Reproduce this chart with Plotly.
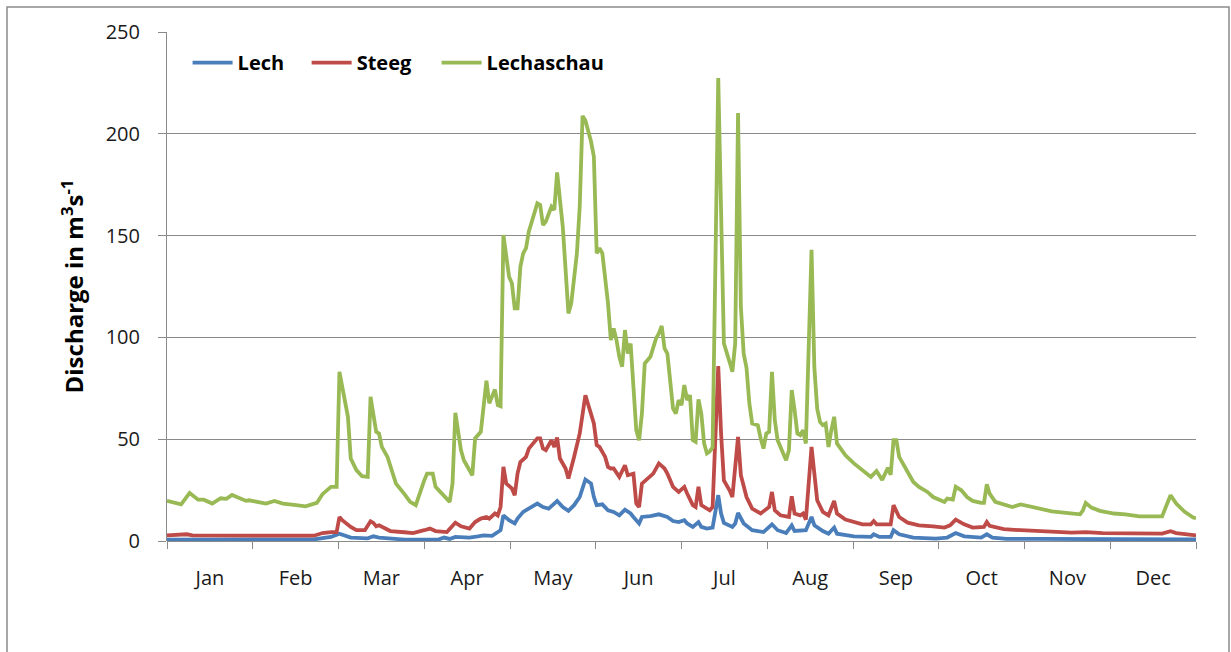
import plotly.graph_objects as go

# ---------------- data (day of year, discharge m3/s) ----------------
months = ["Jan", "Feb", "Mar", "Apr", "May", "Jun", "Jul", "Aug", "Sep", "Oct", "Nov", "Dec"]
y_ticks = [0, 50, 100, 150, 200, 250]

lech_day = [0, 30, 52, 58, 61, 65, 71, 73, 75, 84, 96, 98, 100, 102, 107, 110, 112, 115, 116, 118,
            119, 121, 123, 124, 126, 127, 130, 131, 133, 135, 137, 138, 140, 142, 144, 146, 148, 150,
            151, 152, 154, 156, 158, 160, 162, 164, 165, 167, 168, 171, 174, 177, 179, 181, 183, 184,
            186, 188, 189, 191, 193, 195, 196, 197, 200, 201, 202, 204, 207, 211, 214, 216, 219, 221,
            222, 226, 228, 229, 232, 234, 236, 237, 243, 249, 250, 252, 256, 257, 259, 264, 272, 276,
            279, 282, 288, 290, 292, 297, 308, 325, 364]
lech_q = [0.7, 0.7, 0.8, 2.0, 3.6, 1.7, 1.3, 2.3, 1.7, 0.7, 0.7, 1.7, 1.0, 2.0, 1.7, 2.3, 2.8, 2.5, 3.3, 5.3,
          12.6, 10.2, 8.6, 11.0, 14.3, 15.1, 17.1, 18.4, 16.7, 15.9, 18.4, 19.7, 16.7, 14.8, 17.6, 21.6, 30.2, 28.2,
          21.6, 17.6, 18.0, 15.1, 14.3, 12.6, 15.4, 13.5, 11.8, 8.6, 11.8, 12.2, 13.1, 11.8, 9.8, 9.3, 10.2, 8.6,
          6.9, 9.3, 6.9, 6.1, 6.6, 22.5, 13.5, 8.9, 6.9, 8.6, 13.8, 8.6, 5.3, 4.4, 8.2, 5.3, 3.9, 7.7,
          4.9, 5.3, 11.8, 7.7, 4.9, 3.6, 6.6, 3.6, 2.3, 2.0, 3.3, 2.0, 2.0, 5.3, 3.3, 1.7, 1.2, 1.7,
          3.9, 2.3, 1.7, 3.3, 1.7, 1.0, 1.0, 0.8, 0.8]

steeg_day = [0, 5, 7, 9, 20, 40, 52, 55, 58, 60, 61, 62, 65, 67, 70, 72, 73, 74, 75, 79, 84, 87, 91, 93, 95,
             99, 102, 104, 107, 109, 111, 113, 114, 116, 117, 118, 119, 120, 122, 123, 124, 125, 127, 128,
             131, 132, 133, 134, 136, 137, 138, 139, 141, 142, 144, 146, 148, 150, 151, 152, 153, 155, 156,
             157, 158, 160, 161, 162, 163, 165, 166, 167, 168, 170, 172, 174, 176, 177, 179, 181, 183, 184,
             186, 187, 188, 189, 191, 192, 193, 195, 196, 197, 199, 200, 202, 203, 205, 207, 210, 213, 214,
             215, 217, 220, 221, 222, 224, 225, 226, 228, 229, 230, 232, 234, 236, 237, 240, 242, 245, 246,
             249, 250, 251, 256, 257, 259, 262, 266, 271, 275, 277, 279, 282, 285, 289, 290, 291, 296, 302,
             308, 313, 320, 325, 331, 352, 355, 357, 363, 364]
steeg_q = [2.8, 3.1, 3.3, 2.8, 2.6, 2.6, 2.6, 3.9, 4.4, 4.4, 11.8, 10.2, 6.9, 5.3, 5.3, 9.7, 8.9, 7.2, 7.7, 4.9, 4.3, 3.9, 5.3, 6.1, 4.9,
           4.4, 9.0, 7.2, 6.1, 9.3, 11.0, 11.8, 11.0, 13.5, 12.5, 16.7, 36.4, 28.2, 25.8, 22.5, 33.1, 38.8, 41.3, 45.4,
           50.4, 50.4, 45.4, 44.6, 49.5, 46.2, 50.8, 40.5, 35.6, 30.7, 41.3, 52.8, 71.6, 62.6, 57.7, 47.1, 46.2, 41.3, 36.4,
           35.6, 35.6, 31.5, 34.8, 37.2, 32.3, 33.1, 18.4, 16.7, 28.2, 30.7, 33.1, 38.1, 35.6, 33.1, 26.6, 24.1, 26.6, 23.3,
           17.6, 16.7, 26.6, 17.6, 15.9, 15.1, 16.7, 85.9, 52.8, 29.8, 24.9, 21.6, 51.1, 32.3, 21.6, 15.9, 13.5, 16.7, 24.1,
           15.1, 12.6, 11.8, 22.0, 13.5, 12.6, 13.5, 10.5, 46.2, 33.1, 20.0, 14.3, 12.6, 19.7, 13.5, 10.5, 9.8, 8.6, 8.2,
           8.2, 9.8, 8.2, 8.2, 17.6, 11.8, 9.0, 7.7, 7.2, 6.6, 7.7, 10.5, 8.2, 6.6, 6.9, 9.3, 7.4, 5.8, 5.3,
           4.8, 4.4, 4.1, 4.4, 3.9, 3.6, 4.8, 3.9, 2.8, 2.8]

lechaschau_day = [0, 5, 8, 11, 13, 16, 19, 21, 23, 28, 29, 35, 38, 41, 45, 49, 53, 55, 58, 60, 61, 64, 65, 67,
                  69, 71, 72, 74, 75, 76, 78, 81, 84, 86, 88, 90, 91, 92, 94, 95, 98, 100, 101, 102, 104, 105,
                  108, 109, 111, 113, 114, 116, 117, 118, 119, 121, 122, 123, 124, 125, 126, 127, 128, 131, 132,
                  133, 134, 135, 136, 137, 138, 140, 141, 142, 143, 145, 146, 147, 148, 150, 151, 152, 153, 154,
                  156, 157, 158, 159, 160, 161, 162, 163, 164, 166, 167, 168, 169, 171, 173, 174, 175, 176, 177,
                  179, 180, 181, 182, 183, 184, 185, 186, 187, 188, 189, 190, 191, 192, 193, 195, 196, 197, 199,
                  200, 201, 202, 203, 204, 205, 206, 207, 209, 210, 211, 212, 213, 214, 215, 216, 218, 219, 220,
                  221, 222, 223, 224, 225, 226, 228, 229, 230, 231, 232, 233, 234, 235, 236, 237, 240, 243, 246,
                  249, 251, 253, 255, 256, 257, 258, 259, 262, 264, 266, 269, 271, 275, 276, 278, 279, 281, 283,
                  285, 288, 289, 290, 291, 293, 297, 299, 302, 304, 309, 313, 318, 323, 324, 325, 327, 330, 335,
                  339, 344, 352, 355, 357, 360, 363, 364]
lechaschau_q = [19.7, 18.0, 23.6, 20.3, 20.3, 18.4, 21.0, 20.7, 22.6, 19.7, 20.0, 18.4, 19.7, 18.4, 17.7, 17.0, 18.7, 23.0, 26.6, 26.6, 83.1, 61.0, 40.5, 34.8,
                31.8, 31.5, 70.8, 53.6, 52.8, 46.2, 41.3, 28.2, 23.0, 19.2, 17.6, 26.6, 29.8, 33.1, 33.1, 26.6, 22.5, 19.2, 28.2, 63.0, 44.6, 39.7,
                32.3, 50.4, 53.6, 78.7, 67.6, 74.4, 66.7, 66.2, 150.3, 129.8, 126.6, 114.3, 114.3, 134.7, 141.3, 143.8, 152.0, 165.9, 165.1,
                155.2, 156.9, 161.0, 164.2, 162.6, 181.0, 154.4, 131.5, 111.8, 116.7, 141.3, 164.2, 208.8, 206.5, 196.2, 188.8, 141.3, 143.8, 141.3,
                116.7, 98.7, 104.4, 98.7, 90.5, 85.6, 103.6, 92.1, 97.0, 54.4, 49.5, 62.6, 87.2, 90.5, 99.5, 102.0, 105.6, 94.6, 92.1,
                65.1, 62.6, 69.2, 66.7, 76.6, 69.2, 71.6, 49.5, 48.7, 69.5, 62.6, 47.9, 43.0, 44.0, 46.0, 227.4, 150.0, 97.0, 88.0,
                83.1, 97.1, 210.2, 115.0, 92.0, 85.0, 67.6, 57.7, 56.9, 50.4, 45.4, 52.8, 53.6, 83.1, 59.4, 49.5, 43.0, 39.7, 44.6,
                74.1, 64.3, 52.8, 52.0, 54.4, 47.9, 143.0, 85.0, 65.0, 58.5, 56.9, 57.7, 46.2, 54.4, 61.0, 47.9, 42.1, 38.1, 34.8,
                31.5, 34.4, 30.0, 36.0, 32.5, 49.5, 49.5, 41.3, 33.9, 29.0, 26.6, 24.1, 21.6, 19.2, 20.8, 20.3, 26.6, 24.9, 21.6,
                19.7, 18.7, 18.7, 27.9, 23.3, 19.2, 17.6, 16.7, 18.0, 17.4, 15.9, 14.6, 13.8, 13.1, 15.1, 18.7, 16.4, 14.8, 13.5,
                13.1, 12.1, 12.1, 22.5, 18.4, 14.3, 11.5, 11.2]

# ---------------- layout constants ----------------
W, H = 1231, 652
ML, MR, MT, MB = 167, 35, 32, 111
FONT = "Open Sans"
GRID = "#8a8a8a"

x_end = 364
month_len = x_end / 12
month_bounds = [k * month_len for k in range(13)]
month_mids = [(k + 0.5) * month_len for k in range(12)]

series = [
    ("Lech", lech_day, lech_q, "#4A7EBB", "legend", 0.020),
    ("Steeg", steeg_day, steeg_q, "#BE4B48", "legend2", 0.1357),
    ("Lechaschau", lechaschau_day, lechaschau_q, "#98B954", "legend3", 0.262),
]

fig = go.Figure()
legend_layouts = {}
for name, xs, ys, col, leg, lx in series:
    fig.add_trace(go.Scatter(x=xs, y=ys, name=name, mode="lines", legend=leg,
                             line=dict(color=col, width=3.8), hoverinfo="skip"))
    legend_layouts[leg] = dict(orientation="h", x=lx, y=0.94, xanchor="left", yanchor="middle",
                               font=dict(family=FONT, size=20, color="black", weight="bold"),
                               bgcolor="rgba(0,0,0,0)", itemwidth=40)

pw = W - ML - MR
ph = H - MT - MB
fig.add_shape(type="rect", xref="paper", yref="paper",
              x0=(7 - ML) / pw, x1=(1229 - ML) / pw,
              y0=(H - MB - 660) / ph, y1=(H - MB - 7) / ph,
              line=dict(color="#8c8c8c", width=1.5), fillcolor="rgba(0,0,0,0)", layer="below")

fig.update_layout(
    width=W, height=H,
    margin=dict(l=ML, r=MR, t=MT, b=MB, autoexpand=False),
    paper_bgcolor="white", plot_bgcolor="white",
    font=dict(family=FONT, size=20, color="#1a1a1a"),
    showlegend=True,
    **legend_layouts,
    xaxis=dict(range=[0, x_end], tickmode="array", tickvals=month_mids, ticktext=months,
               ticks="", showgrid=False, zeroline=False, showline=False,
               ticklabelstandoff=23, tickfont=dict(size=20, family=FONT),
               minor=dict(tickmode="array", tickvals=month_bounds, ticks="outside",
                          ticklen=7, tickcolor=GRID, tickwidth=1, showgrid=False)),
    yaxis=dict(range=[0, 250], tickmode="array", tickvals=y_ticks,
               ticks="outside", ticklen=8, tickcolor=GRID, tickwidth=1,
               showgrid=True, gridcolor=GRID, gridwidth=1,
               showline=True, linecolor=GRID, linewidth=1, zeroline=True,
               zerolinecolor=GRID, zerolinewidth=1,
               ticklabelstandoff=14, tickfont=dict(size=20, family=FONT),
               title=dict(text="Discharge in m<sup>3</sup>s<sup>-1</sup>",
                          font=dict(size=24, family=FONT, weight="bold", color="black"),
                          standoff=15)),
)

fig.write_html("out.html", config={"displayModeBar": False},
               post_script="document.body.style.margin='0';")
